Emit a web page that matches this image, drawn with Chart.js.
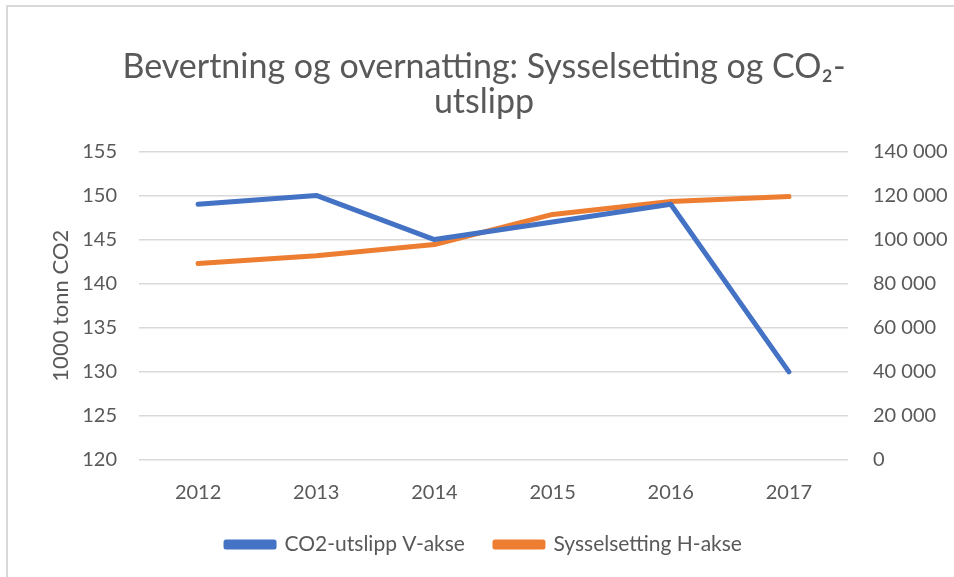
<!DOCTYPE html>
<html>
<head>
<meta charset="utf-8">
<script src="https://cdn.jsdelivr.net/npm/chart.js@4"></script>
<style>
  html, body { margin: 0; padding: 0; background: #fff; }
  #wrap { width: 954px; height: 577px; position: relative; }
</style>
</head>
<body>
<div id="wrap"><canvas id="chart"></canvas></div>
<script>
// data
const years = ['2012', '2013', '2014', '2015', '2016', '2017'];
const co2 = [149, 150, 145, 147, 149, 130]; // 1000 tonn, left axis
const jobs = [89100, 92700, 97700, 111400, 117300, 119500]; // right axis

const titleLines = ['Bevertning og overnatting: Sysselsetting og CO\u2082-', 'utslipp'];
const seriesNames = ['CO2-utslipp V-akse', 'Sysselsetting H-akse'];
const leftTitle = '1000 tonn CO2';

const txt = '#595959';
const grid = '#d9d9d9';
const font = 'Lato, "Open Sans", sans-serif';

// white background + light frame (only top/left edge shows in the picture)
const frame = {
  id: 'frame',
  beforeDraw(chart) {
    const ctx = chart.ctx;
    ctx.save();
    ctx.fillStyle = '#fff';
    ctx.fillRect(0, 0, chart.width, chart.height);
    ctx.strokeStyle = '#d9d9d9';
    ctx.lineWidth = 2;
    ctx.strokeRect(7, 6, chart.width + 20, chart.height + 20);
    ctx.restore();
  },
};

const fmt = (v) => String(v).replace(/\B(?=(\d{3})+(?!\d))/g, ' ');

new Chart(document.getElementById('chart'), {
  type: 'line',
  data: {
    labels: years,
    datasets: [
      {
        label: seriesNames[0],
        data: co2,
        borderColor: '#4472C4',
        backgroundColor: '#4472C4',
        borderWidth: 5,
        pointRadius: 0,
        borderCapStyle: 'round',
        borderJoinStyle: 'round',
        yAxisID: 'y',
      },
      {
        label: seriesNames[1],
        data: jobs,
        borderColor: '#ED7D31',
        backgroundColor: '#ED7D31',
        borderWidth: 5,
        pointRadius: 0,
        borderCapStyle: 'round',
        borderJoinStyle: 'round',
        yAxisID: 'y1',
      },
    ],
  },
  options: {
    responsive: true,
    maintainAspectRatio: false,
    animation: false,
    layout: { padding: { left: 14, right: 0, top: 0, bottom: 12 } },
    plugins: {
      title: {
        display: true,
        text: titleLines,
        color: txt,
        font: { family: font, size: 34, weight: 'normal', lineHeight: 1.02 },
        padding: { top: 50, bottom: 32 },
      },
      legend: {
        position: 'bottom',
        labels: {
          color: txt,
          font: { family: font, size: 21 },
          boxWidth: 48,
          boxHeight: 5,
          padding: 30,
        },
      },
      tooltip: { enabled: false },
    },
    scales: {
      x: {
        offset: true,
        grid: { display: false, drawTicks: false },
        border: { display: false },
        ticks: { color: txt, font: { family: font, size: 20 }, padding: 21 },
        afterFit: (s) => { s.height = 44; },
      },
      y: {
        position: 'left',
        min: 120,
        max: 155,
        ticks: { stepSize: 5, color: txt, font: { family: font, size: 20 }, padding: 22 },
        grid: { color: grid, lineWidth: 1.5, drawTicks: false },
        border: { display: false },
        title: {
          display: true,
          text: leftTitle,
          color: txt,
          font: { family: font, size: 22 },
          padding: { top: 34, bottom: 0 },
        },
        afterFit: (s) => { s.width = 125; },
      },
      y1: {
        position: 'right',
        min: 0,
        max: 140000,
        ticks: {
          stepSize: 20000,
          color: txt,
          font: { family: font, size: 20 },
          padding: 25,
          callback: (v) => fmt(v),
        },
        grid: { display: false, drawTicks: false },
        border: { display: false },
        afterFit: (s) => { s.width = 106; },
      },
    },
  },
  plugins: [frame],
});
</script>
</body>
</html>
